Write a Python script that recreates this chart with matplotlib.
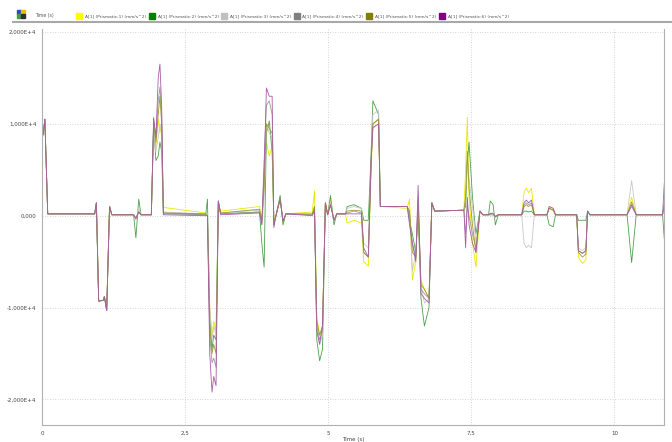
import numpy as np
import matplotlib
matplotlib.use("Agg")
import matplotlib.pyplot as plt
from matplotlib.patches import Rectangle

# breakpoints (s) shared by all six traces, values in units of 1E+4 mm/s^2
t = [0.00, 0.02, 0.05, 0.10, 0.92, 0.95, 0.99, 1.07, 1.09, 1.13,
     1.18, 1.22, 1.60, 1.64, 1.69, 1.73, 1.91, 1.95, 1.99, 2.03,
     2.06, 2.09, 2.12, 2.86, 2.89, 2.93, 2.97, 3.00, 3.04, 3.08,
     3.12, 3.80, 3.84, 3.88, 3.92, 3.97, 4.02, 4.05, 4.09, 4.16,
     4.21, 4.26, 4.72, 4.76, 4.80, 4.85, 4.90, 4.95, 4.99, 5.04,
     5.10, 5.15, 5.30, 5.33, 5.45, 5.58, 5.62, 5.70, 5.75, 5.78,
     5.88, 5.91, 6.38, 6.42, 6.47, 6.53, 6.57, 6.62, 6.68, 6.76,
     6.81, 6.86, 7.37, 7.40, 7.43, 7.46, 7.52, 7.58, 7.65, 7.70,
     7.80, 7.83, 7.88, 7.92, 7.97, 8.38, 8.42, 8.46, 8.50, 8.55,
     8.60, 8.82, 8.86, 8.93, 8.97, 9.34, 9.37, 9.44, 9.50, 9.53,
     9.57, 10.22, 10.30, 10.38, 10.84, 10.87]

a1 = [0.95, 0.88, 1.05, 0.02, 0.02, 0.14, -0.93, -0.92, -0.88, -1.03,
      0.10, 0.01, 0.01, -0.03, 0.05, 0.01, 0.01, 0.90, 0.75, 1.05,
      0.90, 1.00, 0.09, 0.03, 0.00, -1.00, -1.30, -1.15, -1.25, 0.12,
      0.05, 0.10, -0.05, 0.40, 0.80, 0.65, 0.75, -0.05, 0.01, 0.20,
      -0.08, 0.02, 0.04, 0.27, -1.10, -1.30, -1.20, 0.14, 0.01, 0.18,
      -0.05, 0.02, 0.02, -0.08, -0.05, -0.08, -0.50, -0.55, 0.50, 0.95,
      1.00, 0.10, 0.08, 0.18, -0.70, -0.50, 0.10, -0.70, -0.80, -0.90,
      0.14, 0.05, 0.06, 0.50, 1.07, 0.20, -0.30, -0.56, 0.05, 0.01,
      0.01, 0.00, 0.00, 0.00, 0.01, 0.01, 0.25, 0.30, 0.25, 0.30,
      0.01, 0.01, 0.10, 0.08, 0.01, 0.01, -0.45, -0.52, -0.48, 0.05,
      0.01, 0.01, 0.20, 0.01, 0.01, 0.05]

a2 = [0.95, 0.88, 1.05, 0.02, 0.02, 0.14, -0.93, -0.92, -0.88, -1.03,
      0.10, 0.01, 0.01, -0.24, 0.18, 0.01, 0.01, 1.00, 0.60, 0.65,
      0.80, 0.70, 0.03, 0.01, 0.18, -1.10, -1.45, -1.30, -1.35, 0.16,
      0.02, 0.04, -0.30, -0.56, 0.90, 1.03, 0.70, -0.10, 0.01, 0.22,
      -0.10, 0.02, 0.01, 0.10, -1.35, -1.58, -1.45, 0.14, 0.01, 0.22,
      -0.10, 0.02, 0.02, 0.10, 0.12, 0.08, -0.05, -0.05, 0.70, 1.25,
      1.10, 0.10, 0.10, -0.05, -0.20, -0.40, 0.05, -0.90, -1.20, -1.00,
      0.14, 0.05, 0.06, 0.10, 0.60, 0.80, 0.20, -0.20, 0.05, 0.01,
      0.01, 0.16, 0.12, -0.10, 0.01, 0.01, 0.05, 0.05, 0.04, 0.05,
      0.01, 0.01, -0.10, -0.12, 0.01, 0.01, -0.05, -0.05, -0.05, 0.05,
      0.01, 0.01, -0.51, 0.01, 0.01, -0.25]

a3 = [0.95, 0.88, 1.05, 0.02, 0.02, 0.14, -0.93, -0.92, -0.88, -1.03,
      0.10, 0.01, 0.01, -0.05, 0.08, 0.01, 0.01, 0.95, 0.70, 0.85,
      1.00, 0.90, 0.04, 0.02, 0.02, -1.00, -1.35, -1.20, -1.30, 0.14,
      0.03, 0.06, -0.10, 0.20, 1.00, 0.90, 0.85, -0.08, 0.01, 0.18,
      -0.06, 0.02, 0.01, 0.05, -1.25, -1.40, -1.30, 0.14, 0.01, 0.15,
      -0.06, 0.02, 0.02, 0.08, 0.10, 0.08, -0.30, -0.35, 0.60, 1.10,
      1.15, 0.10, 0.10, 0.05, -0.60, -0.40, 0.20, -0.75, -0.95, -0.90,
      0.14, 0.05, 0.06, 0.20, 0.60, 0.40, 0.10, -0.30, 0.05, 0.01,
      0.01, 0.03, 0.03, -0.02, 0.01, 0.01, -0.30, -0.35, -0.32, -0.35,
      0.01, 0.01, 0.08, 0.06, 0.01, 0.01, -0.35, -0.38, -0.35, 0.05,
      0.01, 0.01, 0.38, 0.01, 0.01, 0.10]

a4 = [0.95, 0.88, 1.05, 0.02, 0.02, 0.14, -0.93, -0.92, -0.88, -1.03,
      0.10, 0.01, 0.01, -0.03, 0.04, 0.01, 0.01, 1.05, 0.85, 1.25,
      1.40, 1.10, 0.02, 0.01, 0.00, -1.30, -1.60, -1.55, -1.65, 0.16,
      0.02, 0.04, -0.08, 0.60, 1.20, 1.25, 1.10, -0.10, 0.01, 0.18,
      -0.06, 0.02, 0.01, 0.05, -1.20, -1.35, -1.25, 0.14, 0.01, 0.12,
      -0.05, 0.02, 0.02, 0.03, 0.05, 0.03, -0.40, -0.45, 0.60, 1.00,
      1.05, 0.10, 0.10, 0.00, -0.30, -0.45, 0.15, -0.80, -0.85, -0.90,
      0.14, 0.05, 0.06, -0.20, 0.10, 0.00, -0.20, -0.35, 0.05, 0.01,
      0.01, 0.02, 0.02, -0.01, 0.01, 0.01, 0.12, 0.14, 0.12, 0.14,
      0.01, 0.01, 0.08, 0.06, 0.01, 0.01, -0.38, -0.41, -0.38, 0.05,
      0.01, 0.01, 0.10, 0.01, 0.01, 0.15]

a5 = [0.95, 0.88, 1.05, 0.02, 0.02, 0.14, -0.93, -0.92, -0.88, -1.03,
      0.10, 0.01, 0.01, -0.03, 0.04, 0.01, 0.01, 1.00, 0.80, 1.10,
      1.30, 1.00, 0.03, 0.02, 0.00, -1.20, -1.50, -1.40, -1.50, 0.15,
      0.03, 0.07, -0.05, 0.30, 1.00, 0.95, 0.90, -0.08, 0.01, 0.18,
      -0.06, 0.02, 0.02, 0.08, -1.15, -1.30, -1.20, 0.14, 0.01, 0.12,
      -0.05, 0.02, 0.02, 0.05, 0.06, 0.05, -0.40, -0.45, 0.60, 1.00,
      1.05, 0.10, 0.10, 0.05, -0.40, -0.45, 0.10, -0.75, -0.80, -0.90,
      0.14, 0.05, 0.06, 0.20, 0.70, 0.30, -0.10, -0.40, 0.05, 0.01,
      0.01, 0.02, 0.02, -0.01, 0.01, 0.01, 0.10, 0.12, 0.10, 0.12,
      0.01, 0.01, 0.08, 0.06, 0.01, 0.01, -0.40, -0.45, -0.42, 0.05,
      0.01, 0.01, 0.15, 0.01, 0.01, 0.10]

a6 = [0.95, 0.88, 1.05, 0.02, 0.02, 0.14, -0.93, -0.92, -0.88, -1.03,
      0.10, 0.01, 0.01, -0.03, 0.04, 0.01, 0.01, 1.07, 0.85, 1.50,
      1.65, 1.20, 0.01, 0.00, 0.00, -1.50, -1.92, -1.75, -1.85, 0.16,
      0.01, 0.03, -0.10, 0.50, 1.39, 1.30, 1.30, -0.13, 0.01, 0.18,
      -0.06, 0.02, 0.00, 0.05, -1.25, -1.40, -1.20, 0.14, 0.01, 0.12,
      -0.05, 0.02, 0.02, 0.02, 0.02, 0.02, -0.35, -0.45, 0.60, 0.96,
      1.00, 0.10, 0.10, -0.10, -0.30, -0.50, 0.33, -0.85, -0.90, -0.95,
      0.14, 0.05, 0.06, -0.35, 0.20, -0.10, -0.30, -0.40, 0.05, 0.01,
      0.01, 0.02, 0.02, -0.01, 0.01, 0.01, 0.14, 0.17, 0.14, 0.17,
      0.01, 0.01, 0.10, 0.08, 0.01, 0.01, -0.38, -0.41, -0.38, 0.05,
      0.01, 0.01, 0.12, 0.01, 0.01, 0.35]

labels = ["A[1] (Prismatic:%d) (mm/s^2)" % i for i in range(1, 7)]
colors = ["#ffff00", "#008000", "#c0c0c0", "#808080", "#808000", "#800080"]
line_colors = ["#e8e800", "#4ca04c", "#c8c8c8", "#9a9a9a", "#9a9a30", "#a85ca8"]
series = [a1, a2, a3, a4, a5, a6]

x_ticks = [0, 2.5, 5, 7.5, 10]
x_labels = ["0", "2,5", "5", "7,5", "10"]
y_ticks = [-2, -1, 0, 1, 2]
y_labels = ["-2,000E+4", "-1,000E+4", "0,000", "1,000E+4", "2,000E+4"]

fig = plt.figure(figsize=(6.72, 4.42), dpi=100)
ax = fig.add_axes([0.0625, 0.038, 0.926, 0.896])

for vals, c in zip(series, line_colors):
    ax.plot(t, vals, color=c, linewidth=0.6)

ax.set_xlim(0, 10.87)
ax.set_ylim(-2.28, 2.03)
ax.set_xticks(x_ticks)
ax.set_xticklabels(x_labels)
ax.set_yticks(y_ticks)
ax.set_yticklabels(y_labels)
ax.tick_params(length=0, labelsize=4, colors="#444444", pad=4)
ax.grid(True, linestyle=(0, (1, 2)), color="#c8c8c8", linewidth=0.6)
ax.spines["top"].set_visible(False)
for s in ["left", "bottom", "right"]:
    ax.spines[s].set_color("#b0b0b0")
    ax.spines[s].set_linewidth(0.8)
ax.set_xlabel("Time (s)", fontsize=4, color="#444444", labelpad=1)

# header legend strip
fig.add_artist(plt.Line2D([0.02, 0.998], [1 - 22 / 442] * 2, color="#a8a8a8", linewidth=1.5))
icon = [("#2050c0", 17, 10), ("#e8c000", 21, 10), ("#40a040", 17, 14), ("#303030", 21, 14)]
for c, px, py in icon:
    fig.add_artist(Rectangle((px / 672, 1 - (py + 4) / 442), 4 / 672, 4 / 442, color=c))
fig.text(35 / 672, 1 - 16 / 442, "Time (s)", fontsize=3.3, color="#555555", va="center")
x0 = 79
for i, (lab, c) in enumerate(zip(labels, colors)):
    px = x0 + i * 72.5
    fig.add_artist(Rectangle(((px - 3) / 672, 1 - 19 / 442), 6 / 672, 6 / 442, color=c))
    fig.text((px + 6) / 672, 1 - 16 / 442, lab, fontsize=3.2, color="#555555", va="center")

fig.savefig("out.png", dpi=100)
